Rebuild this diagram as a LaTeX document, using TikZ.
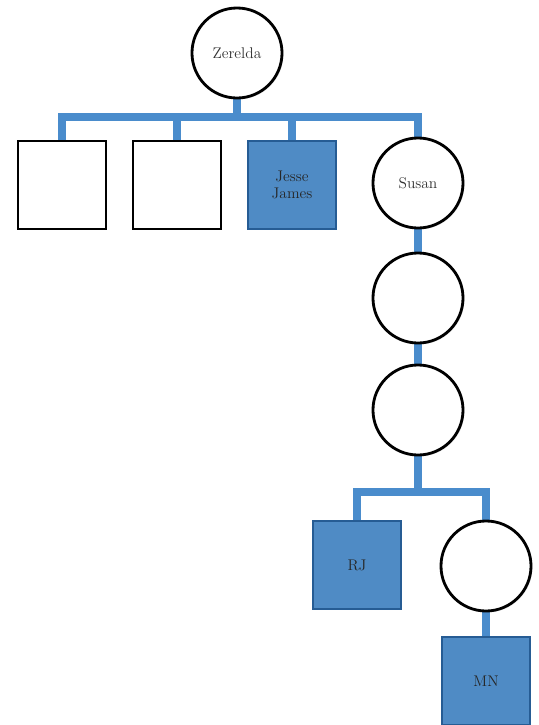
\documentclass[tikz,border=0pt]{standalone}
\usetikzlibrary{shadows,backgrounds}
\definecolor{famblue}{RGB}{79,139,197}
\definecolor{famedge}{RGB}{38,92,148}
\definecolor{linkblue}{RGB}{74,140,204}
\definecolor{inkgray}{RGB}{50,50,50}
\tikzset{
  person/.style={draw=black, line width=1.6pt, fill=white, text=inkgray,
    inner sep=0pt, align=center, font=\fontsize{11}{12.5}\selectfont,
    drop shadow={opacity=0.2, shadow xshift=1pt, shadow yshift=-1pt}},
  male/.style={person, rectangle, minimum size=2.2cm},
  female/.style={person, circle, line width=2pt, minimum size=2.25cm},
  kin/.style={male, fill=famblue, draw=famedge, text=black!85},
  link/.style={draw=linkblue, line width=5pt, line join=miter}
}
\begin{document}
\begin{tikzpicture}[x=0.025cm,y=-0.025cm]
      \useasboundingbox (0,0) rectangle (539,725);
      % first generation
      \node[female] (zer) at (237,53) {Zerelda};
      \node[male] (son1) at (62,185) {};
      \node[male] (son2) at (177,185) {};
      \node[kin] (jesse) at (292,185) {Jesse\\James};
      \node[female] (susan) at (418,183) {Susan};
      % line down from Susan
      \node[female] (gen2) at (418,298) {};
      \node[female] (gen3) at (418,410) {};
      \node[kin] (rj) at (357,565) {RJ};
      \node[female] (gen4) at (486,566) {};
      \node[kin] (mn) at (486,681) {MN};
      \coordinate (topbar) at (237,117);
      \coordinate (lowbar) at (418,492);
      \begin{scope}[on background layer]
      \draw[link] (zer.south) -- (topbar);
      \draw[link] (son1.north) -- (son1.north |- topbar) -- (susan.north |- topbar) -- (susan.north);
      \draw[link] (son2.north) -- (son2.north |- topbar);
      \draw[link] (jesse.north) -- (jesse.north |- topbar);
      \draw[link] (susan.south) -- (gen2.north);
      \draw[link] (gen2.south) -- (gen3.north);
      \draw[link] (gen3.south) -- (lowbar);
      \draw[link] (rj.north) -- (rj.north |- lowbar) -- (gen4.north |- lowbar) -- (gen4.north);
      \draw[link] (gen4.south) -- (mn.north);
      \end{scope}
\end{tikzpicture}
\end{document}
